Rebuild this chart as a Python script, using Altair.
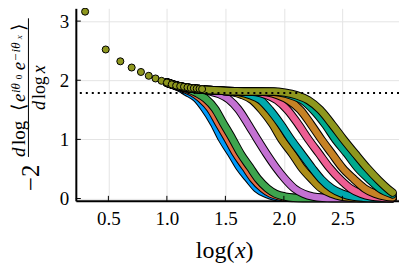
import altair as alt
import pandas as pd
import numpy as np

# ---------------- data ----------------
HEAD_X = list(range(2, 21))
HEAD_Y = [3.16, 2.52, 2.32, 2.215, 2.14, 2.075, 2.03, 1.99, 1.96, 1.93,
          1.91, 1.90, 1.89, 1.88, 1.87, 1.865, 1.86, 1.855, 1.85]

PLATEAU_LOGX = [1.0, 1.1, 1.2, 1.3, 1.4, 1.5, 1.6, 1.8, 2.0, 2.2, 2.4]
PLATEAU_Y = [1.96, 1.90, 1.865, 1.845, 1.83, 1.82, 1.815, 1.81, 1.805, 1.80, 1.80]

S1_LOGX = [1.02, 1.10, 1.17, 1.25, 1.32, 1.40, 1.47, 1.55, 1.62, 1.70, 1.77, 1.85, 1.92, 2.00, 2.07, 2.93]
S1_Y = [1.95, 1.88, 1.80, 1.70, 1.53, 1.28, 1.01, 0.76, 0.53, 0.33, 0.17, 0.08, 0.033, 0.015, 0.01, 0.01]
S2_LOGX = [1.07, 1.14, 1.22, 1.29, 1.37, 1.44, 1.52, 1.59, 1.67, 1.74, 1.82, 1.89, 1.97, 2.04, 2.12, 2.93]
S2_Y = [1.91, 1.86, 1.79, 1.69, 1.52, 1.28, 1.01, 0.76, 0.53, 0.33, 0.17, 0.08, 0.033, 0.015, 0.01, 0.01]
S3_LOGX = [1.11, 1.18, 1.26, 1.33, 1.41, 1.48, 1.56, 1.63, 1.71, 1.78, 1.86, 1.93, 2.01, 2.08, 2.16, 2.93]
S3_Y = [1.89, 1.85, 1.78, 1.69, 1.52, 1.28, 1.01, 0.76, 0.53, 0.33, 0.17, 0.08, 0.033, 0.015, 0.01, 0.01]
S4_LOGX = [1.29, 1.37, 1.45, 1.53, 1.61, 1.69, 1.77, 1.85, 1.93, 2.01, 2.09, 2.17, 2.25, 2.33, 2.41, 2.93]
S4_Y = [1.845, 1.81, 1.765, 1.675, 1.51, 1.27, 1.01, 0.76, 0.53, 0.33, 0.17, 0.08, 0.033, 0.015, 0.01, 0.01]
S5_LOGX = [1.47, 1.56, 1.64, 1.73, 1.81, 1.90, 1.98, 2.07, 2.15, 2.24, 2.32, 2.41, 2.49, 2.58, 2.66, 2.93]
S5_Y = [1.82, 1.80, 1.755, 1.665, 1.50, 1.265, 1.00, 0.76, 0.525, 0.325, 0.17, 0.08, 0.033, 0.015, 0.01, 0.01]
S6_LOGX = [1.53, 1.62, 1.71, 1.80, 1.88, 1.97, 2.06, 2.15, 2.24, 2.32, 2.41, 2.50, 2.59, 2.68, 2.76, 2.93]
S6_Y = [1.82, 1.80, 1.75, 1.665, 1.50, 1.265, 1.00, 0.76, 0.52, 0.325, 0.17, 0.08, 0.032, 0.015, 0.01, 0.01]
S7_LOGX = [1.67, 1.76, 1.85, 1.94, 2.03, 2.12, 2.21, 2.30, 2.39, 2.48, 2.57, 2.66, 2.75, 2.84, 2.93]
S7_Y = [1.815, 1.80, 1.75, 1.665, 1.50, 1.265, 1.00, 0.76, 0.52, 0.325, 0.17, 0.08, 0.032, 0.015, 0.01]
S8_LOGX = [1.77, 1.86, 1.95, 2.04, 2.14, 2.23, 2.32, 2.41, 2.50, 2.60, 2.69, 2.78, 2.87, 2.93]
S8_Y = [1.81, 1.795, 1.745, 1.66, 1.50, 1.26, 1.00, 0.76, 0.52, 0.325, 0.17, 0.08, 0.032, 0.02]
S9_LOGX = [1.87, 1.97, 2.06, 2.16, 2.25, 2.35, 2.44, 2.54, 2.63, 2.73, 2.82, 2.93]
S9_Y = [1.81, 1.79, 1.745, 1.66, 1.50, 1.26, 1.00, 0.755, 0.52, 0.325, 0.17, 0.07]
S10_LOGX = [1.91, 2.01, 2.11, 2.21, 2.31, 2.41, 2.51, 2.61, 2.71, 2.81, 2.91, 2.93]
S10_Y = [1.81, 1.79, 1.745, 1.66, 1.50, 1.26, 1.00, 0.756, 0.52, 0.31, 0.13, 0.10]

SERIES = [(S1_LOGX, S1_Y), (S2_LOGX, S2_Y), (S3_LOGX, S3_Y), (S4_LOGX, S4_Y),
          (S5_LOGX, S5_Y), (S6_LOGX, S6_Y), (S7_LOGX, S7_Y), (S8_LOGX, S8_Y),
          (S9_LOGX, S9_Y), (S10_LOGX, S10_Y)]
COLORS = ["#009AFA", "#E36F47", "#3EA44E", "#C371D2", "#AC8D18",
          "#00A9AD", "#ED5E93", "#C68225", "#00A98D", "#8E971E"]

REF_LEVEL = 1.785
X_TICKS = [0.5, 1.0, 1.5, 2.0, 2.5]
Y_TICKS = [0, 1, 2, 3]

# ---------------- chart ----------------
W, H = 324, 193
XDOM = [0.2217, 2.984]
YDOM = [-0.039, 3.216]
FONT = "Liberation Serif"

xs = alt.Scale(domain=XDOM, nice=False, zero=False)
ys = alt.Scale(domain=YDOM, nice=False, zero=False)

xaxis = alt.Axis(values=X_TICKS, format=".1f", title=None, grid=True, gridColor="#e4e4e4",
                 tickSize=0, labelFont=FONT, labelFontSize=19, labelPadding=9,
                 labelColor="black", domainColor="black", domainWidth=2)
yaxis = alt.Axis(values=Y_TICKS, format="d", title=None, grid=True, gridColor="#e4e4e4",
                 tickSize=0, labelFont=FONT, labelFontSize=19, labelPadding=7,
                 labelColor="black", domainColor="black", domainWidth=2)

layers = []

base_df = pd.DataFrame({"lx": [XDOM[0]], "y": [YDOM[0]]})
layers.append(alt.Chart(base_df).mark_point(opacity=0).encode(
    x=alt.X("lx:Q", scale=xs, axis=xaxis),
    y=alt.Y("y:Q", scale=ys, axis=yaxis)))

for (lx, yv), col in zip(SERIES, COLORS):
    pre = [(a, b) for a, b in zip(PLATEAU_LOGX, PLATEAU_Y) if a < lx[0] - 0.02]
    pts = pre + list(zip(lx, yv))
    df = pd.DataFrame(pts, columns=["lx", "y"])
    enc = dict(x=alt.X("lx:Q", scale=xs), y=alt.Y("y:Q", scale=ys))
    layers.append(alt.Chart(df).mark_line(color="black", strokeWidth=8.5, strokeCap="round",
                                          interpolate="monotone").encode(**enc))
    layers.append(alt.Chart(df).mark_line(color=col, strokeWidth=6.5, strokeCap="round",
                                          interpolate="monotone").encode(**enc))

head_df = pd.DataFrame({"lx": np.log10(np.array(HEAD_X, dtype=float)), "y": HEAD_Y})
layers.append(alt.Chart(head_df).mark_circle(size=50, color=COLORS[-1], opacity=1,
                                             stroke="black", strokeWidth=1).encode(
    x=alt.X("lx:Q", scale=xs), y=alt.Y("y:Q", scale=ys)))

layers.append(alt.Chart(pd.DataFrame({"y": [REF_LEVEL]})).mark_rule(
    color="black", strokeWidth=2, strokeDash=[2, 4]).encode(y=alt.Y("y:Q", scale=ys)))

# inward ticks
layers.append(alt.Chart(pd.DataFrame({"y": Y_TICKS})).mark_rule(color="black", strokeWidth=1).encode(
    y=alt.Y("y:Q", scale=ys), x=alt.value(0), x2=alt.value(5)))
layers.append(alt.Chart(pd.DataFrame({"lx": X_TICKS})).mark_rule(color="black", strokeWidth=1).encode(
    x=alt.X("lx:Q", scale=xs), y=alt.value(H), y2=alt.value(H - 5)))


def txt(s, x, y, size, angle=0, style="normal", align="center", baseline="middle"):
    return alt.Chart(pd.DataFrame({"t": [s]})).mark_text(
        font=FONT, fontSize=size, angle=angle, fontStyle=style, align=align,
        baseline=baseline, color="black").encode(text="t:N", x=alt.value(x), y=alt.value(y))

# x title: log(x)
layers.append(txt("log(", 159, 243, 24, align="right"))
layers.append(txt("x", 159.5, 243, 24, style="italic", align="left"))
layers.append(txt(")", 170, 243, 24, align="left"))

# y title: -2 d log<e^{i th0} e^{-i thx}> / d log x   (rotated, read bottom-to-top)
R = 270
layers.append(txt("−2", -45, 170, 25, angle=R))
NB, SB, BB = -51, -56, -54   # baselines: main, superscript, sub-of-superscript
num = [("d", 149, 19, "italic", NB), ("log", 137, 19, "normal", NB), ("⟨", 103, 19, "normal", NB),
       ("e", 94, 19, "italic", NB), ("iθ", 85, 13, "italic", SB), ("0", 71, 9, "normal", BB),
       ("e", 62, 19, "italic", NB), ("−iθ", 53, 13, "italic", SB), ("x", 31, 9, "italic", BB),
       ("⟩", 23, 19, "normal", NB)]
for s, yy, sz, st, bx in num:
    layers.append(txt(s, bx, yy, sz, angle=R, style=st, align="left", baseline="alphabetic"))
den = [("d", 102, 18, "italic"), ("log", 91, 18, "normal"), ("x", 65, 18, "italic")]
for s, yy, sz, st in den:
    layers.append(txt(s, -31, yy, sz, angle=R, style=st, align="left", baseline="alphabetic"))
layers.append(alt.Chart(pd.DataFrame({"v": [0]})).mark_rule(color="black", strokeWidth=1).encode(
    x=alt.value(-47.5), y=alt.value(10), y2=alt.value(149)))

chart = alt.layer(*layers).properties(
    width=W, height=H,
    autosize=alt.AutoSizeParams(type="none"),
    padding={"left": 68, "top": 0, "right": 0, "bottom": 64},
).configure_view(stroke=None)

chart.save("out.html", embed_options={"renderer": "svg", "actions": False})
